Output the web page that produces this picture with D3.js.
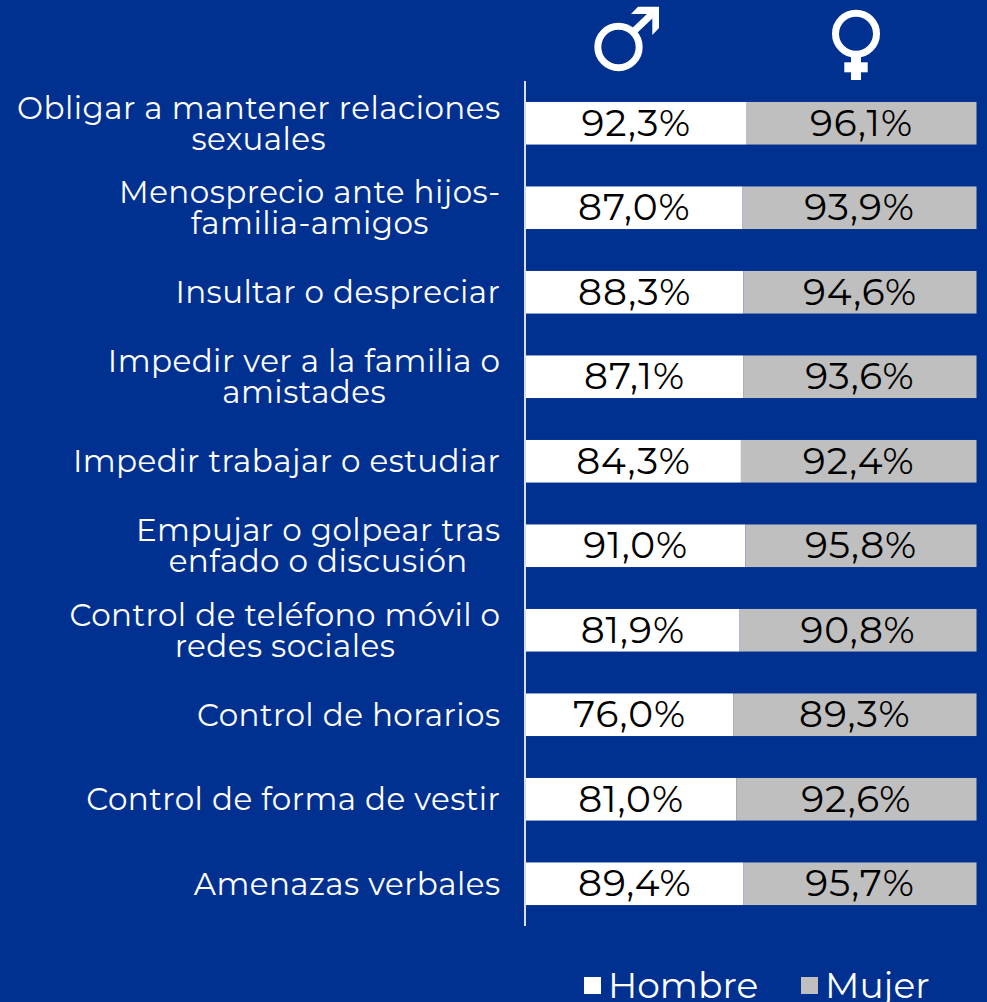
<!DOCTYPE html>
<html><head><meta charset="utf-8">
<script src="https://cdn.jsdelivr.net/npm/d3@7"></script>
<style>html,body{margin:0;padding:0;background:#003090;overflow:hidden}svg{display:block}</style>
</head><body><div id="c"></div>
<script>
const categories=[["Obligar a mantener relaciones","sexuales"],["Menosprecio ante hijos-","familia-amigos"],["Insultar o despreciar"],["Impedir ver a la familia o","amistades"],["Impedir trabajar o estudiar"],["Empujar o golpear tras","enfado o discusión"],["Control de teléfono móvil o","redes sociales"],["Control de horarios"],["Control de forma de vestir"],["Amenazas verbales"]];
const hombre=[92.3,87.0,88.3,87.1,84.3,91.0,81.9,76.0,81.0,89.4];
const mujer=[96.1,93.9,94.6,93.6,92.4,95.8,90.8,89.3,92.6,95.7];
const legendLabels=["Hombre","Mujer"];
const colors=["#ffffff","#bfbfbf"];
const fmt=v=>v.toFixed(1).replace(".",",")+"%";
const W=987,H=1002;
const font="Montserrat, 'Open Sans', 'DejaVu Sans', sans-serif";
const svg=d3.select("#c").append("svg").attr("width",W).attr("height",H);
svg.append("rect").attr("width",W).attr("height",H).attr("fill","#003090");
const y=d3.scaleBand().domain(d3.range(categories.length)).range([81,926]).paddingInner(0.496).paddingOuter(0.248);
const x=d3.scaleLinear().domain([0,100]).range([526,976.5]);
const bh=y.bandwidth();
const share=i=>100*hombre[i]/(hombre[i]+mujer[i]);
const g=svg.append("g").selectAll("g").data(categories).join("g").attr("transform",(d,i)=>`translate(0,${y(i)})`);
g.append("rect").attr("x",x(0)).attr("height",bh).attr("fill",colors[0]).attr("width",(d,i)=>x(share(i))-x(0));
g.append("rect").attr("x",(d,i)=>x(share(i))).attr("height",bh).attr("fill",colors[1]).attr("width",(d,i)=>x(100)-x(share(i)));
const valueText=sel=>sel.attr("y",bh/2+12.5).attr("text-anchor","middle").attr("font-family",font).attr("font-size",37.5).attr("letter-spacing",1).attr("fill","#000");
g.append("text").call(valueText).attr("x",(d,i)=>x(share(i)/2)).text((d,i)=>fmt(hombre[i]));
g.append("text").call(valueText).attr("x",(d,i)=>x(50+share(i)/2)).text((d,i)=>fmt(mujer[i]));
g.each(function(d){
  const s=d3.select(this), n=d.length;
  const labelText=(line,j)=>s.append("text").attr("y",bh/2+11+(j-(n-1)/2)*31).attr("font-family",font).attr("font-size",31).attr("letter-spacing",0.45).attr("fill","#fff").text(line);
  const first=labelText(d[0],0).attr("x",500.5).attr("text-anchor","end");
  if(n>1){
    const w=first.node().getComputedTextLength();
    labelText(d[1],1).attr("x",500.5-w/2).attr("text-anchor","middle");
  }
});
svg.append("line").attr("x1",525).attr("x2",525).attr("y1",81).attr("y2",926).attr("stroke","#d9dde8").attr("stroke-width",2);
// gender symbols
const sym=svg.append("g").attr("fill","#fff");
sym.append("circle").attr("cx",618.5).attr("cy",47).attr("r",20.7).attr("fill","none").attr("stroke","#fff").attr("stroke-width",7);
sym.append("line").attr("x1",632).attr("y1",33).attr("x2",652).attr("y2",14).attr("stroke","#fff").attr("stroke-width",7);
sym.append("path").attr("d",d3.line()([[631,14],[638,6.7],[659,6.7],[659,28],[652.3,35],[652.3,14]]));
sym.append("circle").attr("cx",856).attr("cy",33.7).attr("r",20.5).attr("fill","none").attr("stroke","#fff").attr("stroke-width",7);
sym.append("rect").attr("x",851).attr("y",56).attr("width",10).attr("height",24);
sym.append("rect").attr("x",844.3).attr("y",62.3).attr("width",23.4).attr("height",10);
// legend
const lg=svg.append("g").selectAll("g").data(legendLabels).join("g");
lg.append("rect").attr("x",(d,i)=>[584,801][i]).attr("y",977).attr("width",17).attr("height",17).attr("fill",(d,i)=>colors[i]);
lg.append("text").attr("x",(d,i)=>[608,825][i]).attr("y",998).attr("font-family",font).attr("font-size",36).attr("fill","#fff").text(d=>d);
</script></body></html>
